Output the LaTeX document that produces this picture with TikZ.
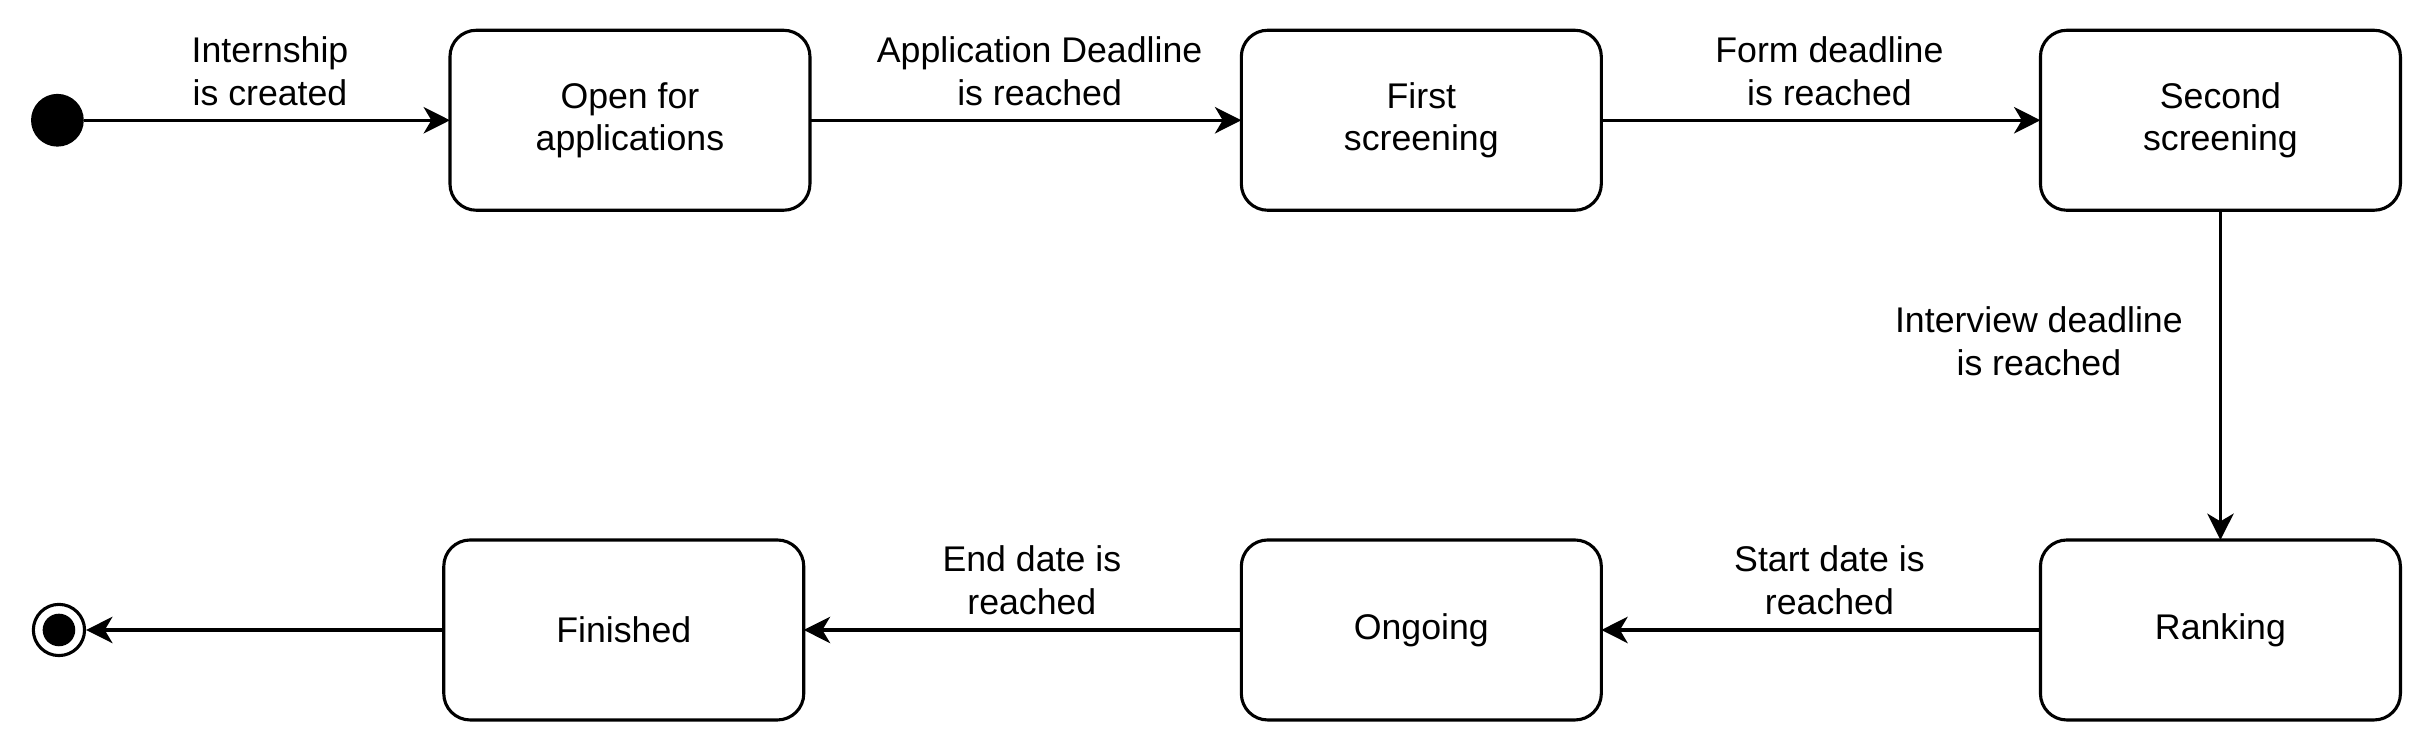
\documentclass[tikz,border=0pt]{standalone}
\usepackage{fontspec}
\setmainfont{Liberation Sans}
\usetikzlibrary{arrows.meta}
\begin{document}
\begin{tikzpicture}[x=1pt,y=1pt,
  every node/.style={font=\fontsize{23}{27.6}\selectfont, align=center, inner sep=0pt},
  statebox/.style={draw, line width=2pt, rounded corners=17pt, minimum width=232pt, minimum height=116pt, outer sep=0pt},
  trans/.style={line width=2pt, -{Stealth[length=17pt,width=17pt,inset=5pt]}},
  lbl/.style={fill=none}
]
\useasboundingbox (0,0) rectangle (1568,-487);
\fill[white] (0,0) rectangle (1568,-487);
% states
\node[circle, fill=black, minimum size=34pt, outer sep=0pt] (init) at (37,-77.5) {};
\node[statebox] (open) at (406,-77.5) {Open for\\applications};
\node[statebox] (first) at (916,-77.5) {First\\screening};
\node[statebox] (second) at (1431,-77.5) {Second\\screening};
\node[statebox] (ranking) at (1431,-406) {Ranking};
\node[statebox] (ongoing) at (916,-406) {Ongoing};
\node[statebox] (finished) at (402,-406) {Finished};
\node[circle, draw, line width=2pt, minimum size=33pt, outer sep=1pt] (final) at (38,-406) {};
\fill (final.center) circle (10.5pt);
% transitions
\draw[trans] (init) -- (open);
\draw[trans] (open) -- (first);
\draw[trans] (first) -- (second);
\draw[trans] (second) -- (ranking);
\draw[trans] (ranking) -- (ongoing);
\draw[trans] (ongoing) -- (finished);
\draw[trans] (finished) -- (final);
% labels
\node[lbl] (l1) at (174,-46) {Internship\\is created};
\node[lbl] (l2) at (670,-46) {Application Deadline\\is reached};
\node[lbl] (l3) at (1179,-46) {Form deadline\\is reached};
\node[lbl] (l4) at (1314,-220) {Interview deadline\\is reached};
\node[lbl] (l5) at (1179,-374) {Start date is\\reached};
\node[lbl] (l6) at (665,-374) {End date is\\reached};
\end{tikzpicture}
\end{document}
